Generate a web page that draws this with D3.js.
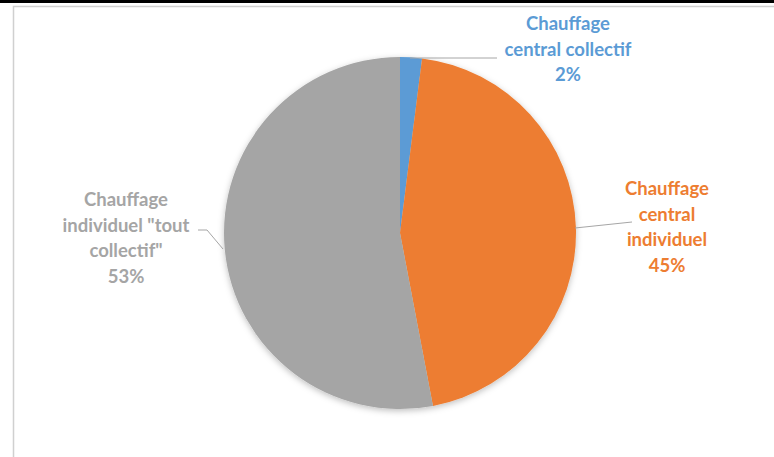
<!DOCTYPE html>
<html><head><meta charset="utf-8">
<script src="https://cdn.jsdelivr.net/npm/d3@7"></script>
<style>body{margin:0;background:#fff}svg{display:block}</style>
</head><body>
<script>
const categories = ["Chauffage central collectif", "Chauffage central individuel", "Chauffage individuel \"tout collectif\""];
const values = [2, 45, 53];
const colors = ["#5B9BD5", "#ED7D31", "#A5A5A5"];
const labelLines = [
  ["Chauffage", "central collectif", "2%"],
  ["Chauffage", "central", "individuel", "45%"],
  ["Chauffage", "individuel \"tout", "collectif\"", "53%"]
];

const W = 774, H = 457;
const svg = d3.select("body").append("svg").attr("width", W).attr("height", H);

// frame
svg.append("rect").attr("x", 0).attr("y", 0).attr("width", W).attr("height", 3).attr("fill", "#000");
svg.append("path").attr("d", `M13.5,${H} V6.5 H${W}`).attr("fill", "none").attr("stroke", "#d0d0d0").attr("stroke-width", 1.5);

const defs = svg.append("defs");
const f = defs.append("filter").attr("id", "sh").attr("x", "-20%").attr("y", "-20%").attr("width", "140%").attr("height", "140%");
f.append("feDropShadow").attr("dx", 0).attr("dy", 2).attr("stdDeviation", 3).attr("flood-color", "#000").attr("flood-opacity", 0.25);

const cx = 400, cy = 233, R = 176;
const pie = d3.pie().sort(null).value(d => d)(values);
const arc = d3.arc().innerRadius(0).outerRadius(R);

const g = svg.append("g").attr("transform", `translate(${cx},${cy})`);
g.append("g").attr("filter", "url(#sh)").selectAll("path").data(pie).join("path")
  .attr("d", arc).attr("fill", (d, i) => colors[i]);

// leader lines (relative to center)
const leaders = [
  [[10, -175], [97, -175]],
  [[175, -5], [232, -11]],
  [[-177, 16], [-193, -3], [-202, -3]]
];
g.selectAll("polyline").data(leaders).join("polyline")
  .attr("points", d => d.map(p => p.join(",")).join(" "))
  .attr("fill", "none").attr("stroke", "#A6A6A6").attr("stroke-width", 1);

const labelPos = [[568, 30], [667, 195], [126, 206]];
const lh = 25.5;
labelLines.forEach((lines, i) => {
  const t = svg.append("text")
    .attr("x", labelPos[i][0]).attr("y", labelPos[i][1])
    .attr("text-anchor", "middle")
    .attr("font-family", "Lato, 'Open Sans', sans-serif")
    .attr("font-weight", "bold").attr("font-size", 18.5)
    .attr("fill", colors[i]);
  lines.forEach((s, j) => t.append("tspan").attr("x", labelPos[i][0]).attr("dy", j === 0 ? 0 : lh).text(s));
});
</script>
</body></html>
